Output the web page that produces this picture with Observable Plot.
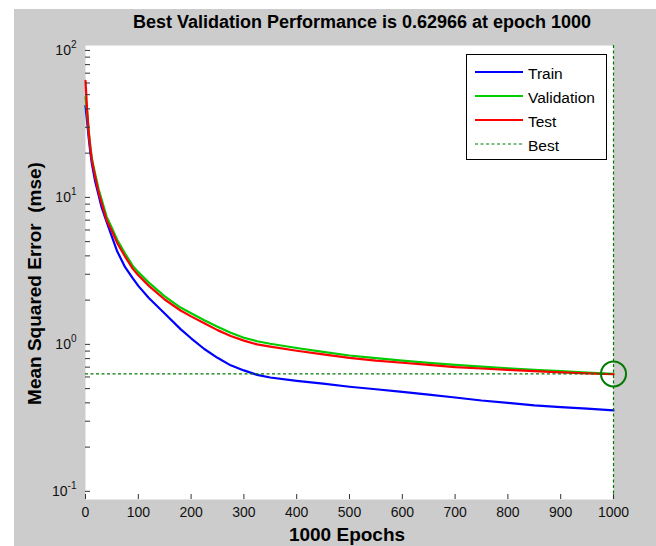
<!DOCTYPE html>
<html>
<head>
<meta charset="utf-8">
<script src="https://cdn.jsdelivr.net/npm/d3@7"></script>
<script src="https://cdn.jsdelivr.net/npm/@observablehq/plot@0.6"></script>
<style>
  html, body { margin: 0; padding: 0; background: #ffffff; }
  #fig { position: relative; width: 656px; height: 546px; overflow: hidden; font-family: "Liberation Sans", Arial, sans-serif; }
  #bg { position: absolute; left: 14px; top: 9px; right: 0; bottom: 0; background: #cccccc; }
  #chart { position: absolute; left: 0; top: 0; }
  #title { position: absolute; left: 62px; width: 600px; top: 11px; line-height: 22px; text-align: center; font-weight: bold; font-size: 18px; color: #000; white-space: nowrap; }
  #xlabel { position: absolute; left: 197px; width: 300px; top: 525px; line-height: 19px; text-align: center; font-weight: bold; font-size: 19px; color: #000; white-space: nowrap; }
  #ylabel { position: absolute; left: -116px; width: 300px; top: 273.5px; line-height: 19px; text-align: center; font-weight: bold; font-size: 19px; color: #000; white-space: pre; transform: rotate(-90deg); transform-origin: 50% 50%; }
  #legend { position: absolute; left: 466px; top: 54px; width: 141px; height: 106px; box-sizing: border-box; border: 1px solid #000; background: #fff; padding: 5px 0 0 8px; }
  .row { display: flex; align-items: center; height: 24px; }
  .row svg { display: block; margin-right: 5px; }
  .row span { font-size: 15.5px; color: #000; line-height: 15px; position: relative; top: 1px; }
</style>
</head>
<body>
<div id="fig">
  <div id="bg"></div>
  <div id="title"></div>
  <div id="chart"></div>
  <div id="xlabel"></div>
  <div id="ylabel"></div>
  <div id="legend"></div>
</div>
<script>
// ---- data ----
const titleText = "Best Validation Performance is 0.62966 at epoch 1000";
const xLabelText = "1000 Epochs";
const yLabelText = "Mean Squared Error  (mse)";

const epochs   = [0, 3, 6, 9, 12, 18, 25, 30, 40, 50, 60, 75, 90, 100, 120, 150, 180, 200, 225, 250, 275, 300, 325, 350, 400, 450, 500, 550, 600, 650, 700, 750, 800, 850, 900, 950, 1000];
const trainMse = [42, 33, 25.5, 20.5, 17, 13, 10.3, 8.7, 6.8, 5.4, 4.3, 3.35, 2.8, 2.5, 2.07, 1.62, 1.27, 1.1, 0.93, 0.81, 0.72, 0.665, 0.62, 0.595, 0.565, 0.54, 0.515, 0.495, 0.475, 0.455, 0.435, 0.415, 0.40, 0.385, 0.374, 0.365, 0.355];
const valMse   = [48, 38, 28.5, 22.5, 18.5, 14.6, 11.3, 9.8, 7.4, 6.2, 5.15, 4.15, 3.4, 3.1, 2.63, 2.12, 1.78, 1.63, 1.46, 1.32, 1.2, 1.11, 1.05, 1.01, 0.945, 0.89, 0.84, 0.805, 0.775, 0.748, 0.725, 0.705, 0.688, 0.672, 0.657, 0.643, 0.62966];
const testMse  = [62, 40, 28, 22, 18, 14, 10.8, 9.3, 7.0, 5.9, 4.9, 3.95, 3.25, 2.95, 2.5, 2.02, 1.7, 1.55, 1.39, 1.25, 1.14, 1.06, 1.0, 0.965, 0.905, 0.855, 0.81, 0.775, 0.75, 0.725, 0.70, 0.685, 0.67, 0.657, 0.645, 0.635, 0.626];

const seriesNames  = ["Train", "Validation", "Test", "Best"];
const seriesColors = ["#0000ff", "#00cc00", "#ff0000", "#007a00"];

const bestEpoch = 1000;
const bestPerf  = 0.62966;

const xTickValues = [0, 100, 200, 300, 400, 500, 600, 700, 800, 900, 1000];
const yMajorTicks = [0.1, 1, 10, 100];
const yMinorFactors = [2, 3, 4, 5, 6, 7, 8, 9];

const xDomain = [0, 1000];
const yDomain = [0.088, 108];

// ---- build tables ----
const seriesValues = [trainMse, valMse, testMse];
const lineRows = seriesValues.map((vals, s) =>
  epochs.map((e, i) => ({epoch: e, mse: vals[i], series: seriesNames[s]})));
const yMinorTicks = yMajorTicks.slice(0, -1).flatMap(m => yMinorFactors.map(f => m * f));
const yAllTicks = [...yMajorTicks, ...yMinorTicks];
const isMajor = d => yMajorTicks.some(m => Math.abs(m - d) / m < 1e-9);

const dash = "3,2.5";

const chart = Plot.plot({
  width: 656,
  height: 546,
  marginLeft: 85,
  marginRight: 43,
  marginTop: 45,
  marginBottom: 47,
  style: {
    fontFamily: '"Liberation Sans", Arial, sans-serif',
    fontSize: "14px",
    color: "#111",
    background: "transparent",
    overflow: "visible"
  },
  x: {domain: xDomain, label: null},
  y: {type: "log", domain: yDomain, label: null},
  marks: [
    Plot.frame({fill: "white", stroke: "none"}),
    ...lineRows.map((rows, s) =>
      Plot.line(rows, {x: "epoch", y: "mse", stroke: seriesColors[s], strokeWidth: 2.2})),
    Plot.ruleY([bestPerf], {stroke: seriesColors[3], strokeWidth: 1.2, strokeDasharray: dash}),
    Plot.ruleX([bestEpoch], {stroke: seriesColors[3], strokeWidth: 1.2, strokeDasharray: dash}),
    Plot.dot([{epoch: bestEpoch, mse: bestPerf}], {x: "epoch", y: "mse", r: 12.5, stroke: seriesColors[3], strokeWidth: 2, fill: "none"}),
    Plot.axisX({ticks: xTickValues, tickSize: -5, tickPadding: 12.5, line: true, stroke: "#333", fill: "#111", fontSize: 14, tickFormat: d => String(d)}),
    Plot.axisY({ticks: yAllTicks, tickSize: -5, tickPadding: 14, line: true, stroke: "#333", fill: "#111", fontSize: 14,
      tickFormat: d => isMajor(d) ? `10^${Math.round(Math.log10(d))}` : ""})
  ]
});

// superscript exponents on the y tick labels
chart.querySelectorAll('g[aria-label="y-axis tick label"] text').forEach(t => {
  const m = /^10\^(-?\d+)$/.exec(t.textContent.trim());
  if (!m) return;
  t.textContent = "";
  t.setAttribute("fill", "#111");
  t.setAttribute("stroke", "none");
  t.setAttribute("font-size", "14px");
  const ns = "http://www.w3.org/2000/svg";
  const base = document.createElementNS(ns, "tspan");
  base.textContent = "10";
  base.setAttribute("font-size", "14px");
  const exp = document.createElementNS(ns, "tspan");
  exp.textContent = m[1];
  exp.setAttribute("dy", "-7");
  exp.setAttribute("font-size", "10px");
  t.appendChild(base);
  t.appendChild(exp);
});

document.getElementById("chart").appendChild(chart);
document.getElementById("title").textContent = titleText;
document.getElementById("xlabel").textContent = xLabelText;
document.getElementById("ylabel").textContent = yLabelText;

// legend
const legend = document.getElementById("legend");
seriesNames.forEach((name, i) => {
  const row = document.createElement("div");
  row.className = "row";
  const isBest = i === 3;
  row.innerHTML = `<svg width="48" height="6"><line x1="0" x2="48" y1="3" y2="3" stroke="${seriesColors[i]}" stroke-width="${isBest ? 1.2 : 2.2}" ${isBest ? `stroke-dasharray="${dash}"` : ""}/></svg><span>${name}</span>`;
  legend.appendChild(row);
});
</script>
</body>
</html>
